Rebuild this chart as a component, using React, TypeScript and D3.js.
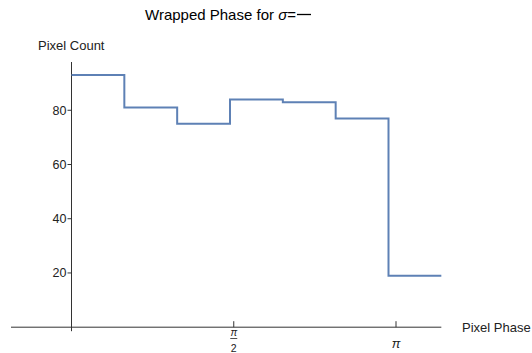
import React from "react";
import * as d3 from "d3";

// Histogram of wrapped pixel phase: bin edges (radians) and counts per bin
const binWidth = 0.5115;
const binEdges = [0, 1, 2, 3, 4, 5, 6, 7].map((i) => i * binWidth);
const counts = [93, 81, 75, 84, 83, 77, 19];
const yTicks = [20, 40, 60, 80];
const xTicks = [
  { value: Math.PI / 2, num: "π", den: "2" },
  { value: Math.PI, num: "π", den: "" },
];

const W = 532;
const H = 353;
const FONT = "'Liberation Sans', Arial, sans-serif";
const LINE = "#5E81B5";
const AXIS = "#333";

export default function App() {
  const x = d3.scaleLinear().domain([0, Math.PI]).range([71.5, 396]);
  const y = d3.scaleLinear().domain([0, 60]).range([327.2, 164.5]);

  const xMin = x.invert(11);
  const yTop = y.invert(62);

  // Step outline: start at first edge, step through each bin
  const pts: [number, number][] = [];
  counts.forEach((c, i) => {
    pts.push([binEdges[i], c]);
    pts.push([binEdges[i + 1], c]);
  });
  const line = d3
    .line<[number, number]>()
    .x((d) => x(d[0]))
    .y((d) => y(d[1]));

  const y0 = y(0);
  const x0 = x(0);

  return (
    <svg
      width={W}
      height={H}
      style={{ position: "absolute", left: 0, top: 0, background: "#fff" }}
      fontFamily={FONT}
    >
      <text x={145} y={20} fontSize={15} fill="#000">
        Wrapped Phase for <tspan fontStyle="italic">σ</tspan>=
      </text>
      <line x1={297} x2={311} y1={14.5} y2={14.5} stroke="#000" strokeWidth={1.3} />

      {/* axes */}
      <line x1={x(xMin)} x2={x(binEdges[7])} y1={y0} y2={y0} stroke={AXIS} strokeWidth={1} />
      <line x1={x0} x2={x0} y1={y(yTop)} y2={y0 + 4} stroke={AXIS} strokeWidth={1} />

      {yTicks.map((t) => (
        <g key={t}>
          <line x1={x0 - 4} x2={x0} y1={y(t)} y2={y(t)} stroke={AXIS} />
          <text x={x0 - 5} y={y(t)} dy="0.36em" fontSize={12.5} textAnchor="end" fill="#222">
            {t}
          </text>
        </g>
      ))}

      {xTicks.map((t) => (
        <g key={t.value}>
          <line x1={x(t.value)} x2={x(t.value)} y1={y0} y2={y0 - 6} stroke={AXIS} />
          {t.den ? (
            <g>
              <text x={x(t.value)} y={335.5} fontSize={10} textAnchor="middle" fontStyle="italic" fill="#222">
                {t.num}
              </text>
              <line x1={x(t.value) - 3.5} x2={x(t.value) + 3.5} y1={338.5} y2={338.5} stroke="#222" strokeWidth={0.8} />
              <text x={x(t.value)} y={351.5} fontSize={10.5} textAnchor="middle" fill="#222">
                {t.den}
              </text>
            </g>
          ) : (
            <text x={x(t.value)} y={348} fontSize={13} textAnchor="middle" fontStyle="italic" fill="#222">
              {t.num}
            </text>
          )}
        </g>
      ))}

      <text x={38} y={50} fontSize={13} fill="#222">
        Pixel Count
      </text>
      <text x={462} y={331.5} fontSize={13} fill="#222">
        Pixel Phase
      </text>

      <path d={line(pts) ?? ""} fill="none" stroke={LINE} strokeWidth={2} />
    </svg>
  );
}
